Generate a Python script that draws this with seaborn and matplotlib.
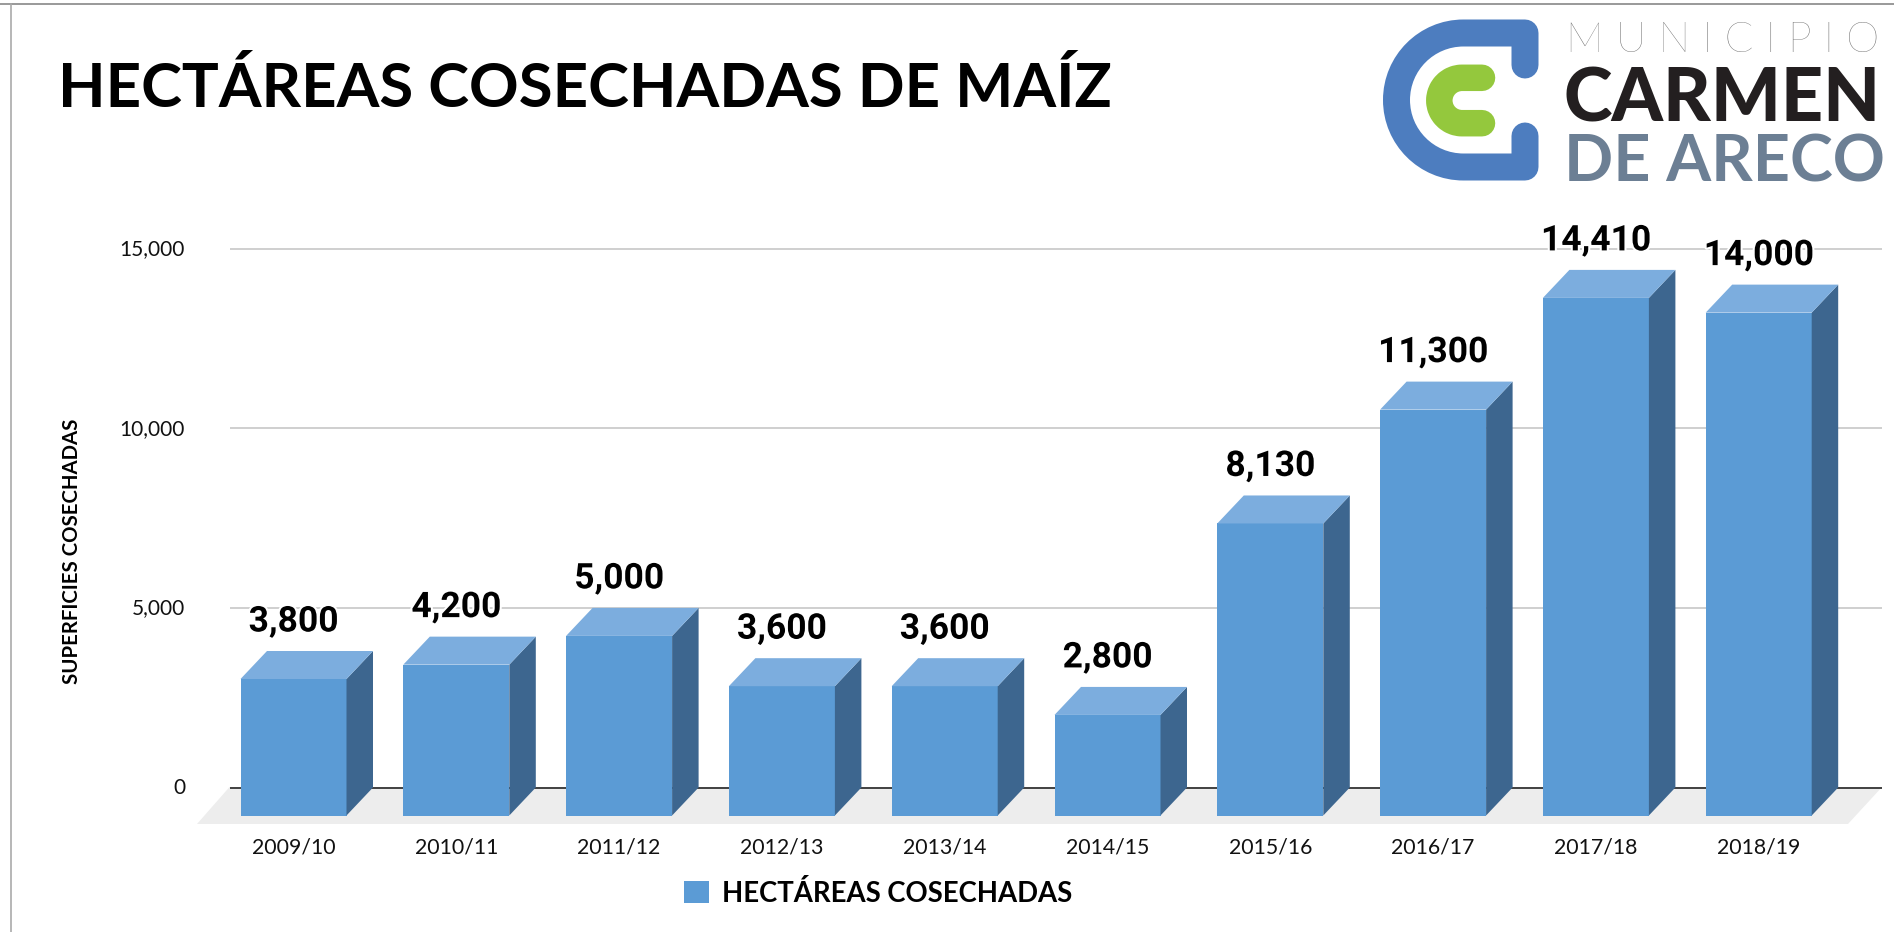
import matplotlib
matplotlib.use('AGG')
import matplotlib.pyplot as plt
import matplotlib.patheffects as pe
from matplotlib.patches import Polygon, Patch
from matplotlib.path import Path
from matplotlib.patches import PathPatch
from matplotlib.transforms import ScaledTranslation
import seaborn as sns

campaigns = ['2009/10', '2010/11', '2011/12', '2012/13', '2013/14',
             '2014/15', '2015/16', '2016/17', '2017/18', '2018/19']
hectares = [3800, 4200, 5000, 3600, 3600, 2800, 8130, 11300, 14410, 14000]
y_ticks = [0, 5000, 10000, 15000]
series_name = 'HECTÁREAS COSECHADAS'
title = 'HECTÁREAS COSECHADAS DE MAÍZ'
y_title = 'SUPERFICIES COSECHADAS'

W, H = 1894, 932
PX_PER_UNIT = 0.03592   # vertical scale
ZERO_Y = 787.5          # pixel row of value 0 on the back wall
STEP = 162.8            # pixels between two bars
FIRST_X = 293.5         # pixel column of first bar centre
DEPTH_X, DEPTH_Y = 26.5, 28

FRONT = '#5B9BD5'
SIDE = '#3D668F'
TOP = '#7CADDE'

sns.set_theme(style='white')
plt.rcParams['font.family'] = ['Lato', 'DejaVu Sans']

fig = plt.figure(figsize=(W / 100, H / 100), dpi=100)

# pixel space canvas for frame, floor and logo
deco = fig.add_axes([0, 0, 1, 1], zorder=0)
deco.set_xlim(0, W)
deco.set_ylim(H, 0)
deco.axis('off')

L, R, T, B = 229.5, 1882, 200, 830
rect = [L / W, 1 - B / H, (R - L) / W, (B - T) / H]
xlim = ((L - FIRST_X) / STEP, (R - FIRST_X) / STEP)
ylim = ((ZERO_Y - B) / PX_PER_UNIT, (ZERO_Y - T) / PX_PER_UNIT)

# back wall: grid
ax = fig.add_axes(rect, zorder=1)
ax.patch.set_alpha(0)
ax.set_xlim(*xlim)
ax.set_ylim(*ylim)
ax.set_xticks([])
ax.set_yticks(y_ticks)
ax.set_yticklabels([f'{v:,}' for v in y_ticks], fontsize=15, color='#111111')
ax.tick_params(axis='y', length=0, pad=32)
for label in ax.get_yticklabels():
    label.set_transform(label.get_transform() + ScaledTranslation(0, 1.1 / 72, fig.dpi_scale_trans))
for v in y_ticks:
    ax.axhline(v, color='#333333' if v == 0 else '#CCCCCC', lw=1.3, zorder=1)
sns.despine(ax=ax, left=True, bottom=True)

# front plane: same scale, shifted towards the viewer
shift = DEPTH_Y / PX_PER_UNIT
ax2 = fig.add_axes(rect, zorder=2)
ax2.patch.set_alpha(0)
sns.barplot(x=campaigns, y=hectares, color=FRONT, saturation=1, width=106 / STEP,
            ax=ax2, label=series_name, legend=False, linewidth=0)
ax2.set_xlim(*xlim)
ax2.set_ylim(ylim[0] + shift, ylim[1] + shift)
ax2.set_yticks([])
ax2.tick_params(axis='x', length=0, pad=5.3, labelsize=15.3, labelcolor='#111111')
sns.despine(ax=ax2, left=True, bottom=True)

dx = DEPTH_X / STEP
for bar, val in zip(list(ax2.patches), hectares):
    x0 = bar.get_x()
    x1 = x0 + bar.get_width()
    ax2.add_patch(Polygon([(x1, 0), (x1 + dx, shift), (x1 + dx, val + shift), (x1, val)],
                          fc=SIDE, lw=0, clip_on=False))
    ax2.add_patch(Polygon([(x0, val), (x0 + dx, val + shift), (x1 + dx, val + shift), (x1, val)],
                          fc=TOP, lw=0, clip_on=False))
    ax2.annotate(f'{val:,}', (x0 + bar.get_width() / 2, val + shift), xytext=(0, 9),
                 textcoords='offset points', ha='center', va='bottom', fontsize=25.5,
                 fontweight='bold', family='Roboto', color='black',
                 path_effects=[pe.withStroke(linewidth=3, foreground='white')])

# floor
deco.add_patch(Polygon([(197, 824), (229.5, 787), (1882, 787), (1848, 824)], fc='#EDEDED', lw=0))

# frame of the screenshot
deco.plot([0, W], [3.5, 3.5], color='#999999', lw=1.4)
deco.plot([11, 11], [3.5, H], color='#AAAAAA', lw=1.2)

deco.text(58, 107, title, fontsize=44.4, fontweight='bold', color='black', va='baseline', ha='left')
deco.text(72, 551, y_title, fontsize=14.7, fontweight='bold', color='black', rotation=90,
          va='center', ha='center')

# legend
handles = [Patch(fc=FRONT, ec='none', label=series_name)]
leg = deco.legend(handles=handles, loc='center left', frameon=False,
                  bbox_to_anchor=(659 / W, 1 - 893 / H), handlelength=0.9,
                  handleheight=0.9, handletextpad=0.5,
                  prop={'weight': 'bold', 'size': 19.8})
for t in leg.get_texts():
    t.set_color('black')

# logo
def stroke(verts, codes, color, width):
    deco.add_patch(PathPatch(Path(verts, codes), fc='none', ec=color, lw=width * 0.72,
                             capstyle='round', joinstyle='round'))

k = 0.5523
M, LN, C4 = Path.MOVETO, Path.LINETO, Path.CURVE4
cx, cy, r = 1463.5, 100, 67
stroke([(1525, 65), (1525, cy - r), (cx, cy - r),
        (cx - k * r, cy - r), (cx - r, cy - k * r), (cx - r, cy),
        (cx - r, cy + k * r), (cx - k * r, cy + r), (cx, cy + r),
        (1525, cy + r), (1525, 136)],
       [M, LN, LN, C4, C4, C4, C4, C4, C4, LN, LN], '#4D7DBF', 27)
cx, cy, r = 1462, 100.5, 22.7
stroke([(1482, cy - r), (cx, cy - r),
        (cx - k * r, cy - r), (cx - r, cy - k * r), (cx - r, cy),
        (cx - r, cy + k * r), (cx - k * r, cy + r), (cx, cy + r), (1482, cy + r)],
       [M, LN, C4, C4, C4, C4, C4, C4, LN], '#94C83D', 26.5)

deco.text(1566, 52, 'M U N I C I P I O', fontsize=30.5, fontweight='light', color='#666666',
          ha='left', va='baseline')
deco.text(1564, 122, 'CARMEN', fontsize=53, fontweight='black', color='#231F20',
          ha='left', va='baseline')
deco.text(1564, 181, 'DE ARECO', fontsize=46.5, fontweight='bold', color='#6C7F94',
          ha='left', va='baseline')

fig.savefig('out.png', dpi=100)
